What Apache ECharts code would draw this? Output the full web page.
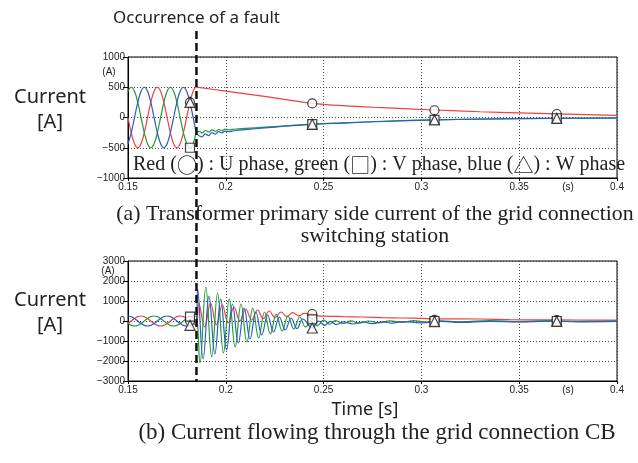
<!DOCTYPE html>
<html>
<head>
<meta charset="utf-8">
<title>Fault current</title>
<script src="https://cdn.jsdelivr.net/npm/echarts@6/dist/echarts.min.js"></script>
<style>html,body{margin:0;padding:0;background:#fff}</style>
</head>
<body>
<div id="chart" style="width:638px;height:463px;"></div>
<script>
// fault instant (s)
var faultTime = 0.185;
var timeTicks = [0.15, 0.2, 0.25, 0.3, 0.35, 0.4];
var ticksA = [-1000, -500, 0, 500, 1000];
var ticksB = [-3000, -2000, -1000, 0, 1000, 2000, 3000];

// samples before the fault (s)
var tPre = [0.15, 0.15167, 0.15333, 0.155, 0.15667, 0.15833, 0.16, 0.16167, 0.16333, 0.165, 0.16667,
  0.16833, 0.17, 0.17167, 0.17333, 0.175, 0.17667, 0.17833, 0.18, 0.18167, 0.18333, 0.185];

// (a) transformer primary side current, before fault (A)
var uPreA = [0, -250, -433, -500, -433, -250, 0, 250, 433, 500, 433, 250, 0, -250, -433, -500, -433, -250, 0, 250, 433, 500];
var vPreA = [433, 500, 433, 250, 0, -250, -433, -500, -433, -250, 0, 250, 433, 500, 433, 250, 0, -250, -433, -500, -433, -250];
var wPreA = [-433, -250, 0, 250, 433, 500, 433, 250, 0, -250, -433, -500, -433, -250, 0, 250, 433, 500, 433, 250, 0, -250];

// (a) after fault [t, A]
var uPostA = [[0.186, 498], [0.2, 435], [0.215, 370], [0.23, 300], [0.2442, 235], [0.26, 195], [0.28, 162],
  [0.3067, 124], [0.33, 95], [0.35, 75], [0.3692, 60], [0.4, 35]];
var vPostA = [[0.1865, -230], [0.188, -255], [0.1897, -215], [0.1914, -240], [0.193, -205], [0.1947, -228],
  [0.1964, -198], [0.198, -218], [0.1997, -192], [0.202, -205], [0.205, -190], [0.21, -180], [0.22, -160],
  [0.23, -140], [0.2442, -110], [0.26, -88], [0.28, -62], [0.3067, -38], [0.33, -25], [0.3692, -12], [0.4, -8]];
var wPostA = [[0.1862, -300], [0.1878, -320], [0.1895, -270], [0.1912, -300], [0.1929, -250], [0.1946, -275],
  [0.1963, -235], [0.198, -255], [0.1997, -225], [0.202, -232], [0.205, -215], [0.21, -200], [0.22, -172],
  [0.23, -145], [0.2442, -112], [0.26, -92], [0.28, -66], [0.3067, -40], [0.33, -28], [0.3692, -14], [0.4, -10]];

// (b) grid connection CB current, before fault (A)
var uPreB = [-125, 0, 125, 217, 250, 217, 125, 0, -125, -217, -250, -217, -125, 0, 125, 217, 250, 217, 125, 0, -125, -217];
var vPreB = [-125, -217, -250, -217, -125, 0, 125, 217, 250, 217, 125, 0, -125, -217, -250, -217, -125, 0, 125, 217, 250, 217];
var wPreB = [250, 217, 125, 0, -125, -217, -250, -217, -125, 0, 125, 217, 250, 217, 125, 0, -125, -217, -250, -217, -125, 0];

// (b) after fault [t, A]
var uPostB = [[0.1862, 900], [0.1892, -300], [0.1922, 900], [0.1952, -200], [0.1982, 800], [0.2012, -100],
  [0.2042, 700], [0.2072, 0], [0.2102, 600], [0.2132, 50], [0.2162, 550], [0.2192, 120], [0.2222, 500],
  [0.2252, 170], [0.2282, 450], [0.2312, 220], [0.2342, 420], [0.2372, 260], [0.2402, 380], [0.2442, 350],
  [0.2472, 260], [0.25, 240], [0.26, 220], [0.27, 200], [0.28, 170], [0.29, 150], [0.3, 130], [0.3067, 110],
  [0.32, 110], [0.33, 100], [0.345, 70], [0.36, 55], [0.38, 50], [0.4, 45]];
var vPostB = [[0.1868, -2100], [0.1898, 1700], [0.1928, -1800], [0.1958, 1400], [0.1988, -1600], [0.2018, 1100],
  [0.2048, -1300], [0.2078, 850], [0.2108, -1050], [0.2138, 650], [0.2168, -850], [0.2198, 450], [0.2228, -650],
  [0.2258, 350], [0.2288, -500], [0.2318, 250], [0.2348, -400], [0.2378, 200], [0.2408, -300], [0.2442, 80],
  [0.2468, -250], [0.25, 40], [0.253, -160], [0.256, 20], [0.26, -130], [0.264, 10], [0.268, -110], [0.273, 0],
  [0.278, -90], [0.284, 10], [0.29, -70], [0.296, 20], [0.303, -50], [0.31, 10], [0.32, -40], [0.335, 20],
  [0.35, -30], [0.365, 20], [0.38, -20], [0.4, 10]];
var wPostB = [[0.1856, 1600], [0.1884, -1900], [0.1914, 1250], [0.1944, -1650], [0.1974, 1100], [0.2004, -1450],
  [0.2034, 850], [0.2064, -1100], [0.2094, 650], [0.2124, -900], [0.2154, 450], [0.2184, -700], [0.2214, 300],
  [0.2244, -550], [0.2274, 200], [0.2304, -450], [0.2334, 150], [0.2364, -380], [0.2394, 100], [0.2442, -350],
  [0.2475, 0], [0.2505, -220], [0.2535, -20], [0.2565, -180], [0.26, -40], [0.265, -150], [0.27, -50],
  [0.275, -130], [0.28, -40], [0.285, -110], [0.29, -30], [0.3, -90], [0.31, -20], [0.32, -70], [0.335, -20],
  [0.35, -50], [0.365, -10], [0.38, -40], [0.4, -20]];

// marker positions on the curves
var markT = [0.1817, 0.2442, 0.3067, 0.3692];
var uMarkA = [250, 232, 120, 58];
var vMarkA = [-500, -108, -38, -12];
var wMarkA = [250, -112, -40, -14];
var uMarkB = [0, 350, 60, 40];
var vMarkB = [217, 80, 0, 0];
var wMarkB = [-217, -350, -30, -20];

var colU = '#ef4141', colV = '#1f9e35', colW = '#2c5cc2';

function pairs(t, v) {
  return t.map(function (x, i) { return [x, v[i]]; });
}

function lineSeries(idx, pre, post, color) {
  return {
    type: 'line', xAxisIndex: idx, yAxisIndex: idx,
    data: pairs(tPre, pre).concat(post),
    showSymbol: false, smooth: 0.4, silent: true,
    lineStyle: { color: color, width: 1.2 }
  };
}

function markSeries(idx, vals, symbol) {
  return {
    type: 'scatter', xAxisIndex: idx, yAxisIndex: idx,
    data: pairs(markT, vals), symbol: symbol, symbolSize: symbol === 'triangle' ? 10 : 9,
    itemStyle: { color: '#fff', borderColor: '#111', borderWidth: 1.2 }, z: 5, silent: true
  };
}

var labelFont = { fontFamily: 'Liberation Sans Narrow, Liberation Sans, sans-serif', fontSize: 10, color: '#222' };
var dots = { show: true, lineStyle: { color: '#444', type: [1, 2], width: 1 } };

function xAxis(idx) {
  return {
    type: 'value', gridIndex: idx,
    min: timeTicks[0], max: timeTicks[timeTicks.length - 1], interval: timeTicks[1] - timeTicks[0],
    axisLine: { onZero: false, lineStyle: { color: '#000' } },
    axisTick: { length: 3, lineStyle: { color: '#000' } },
    axisLabel: Object.assign({ margin: 4, formatter: function (v) { return String(+v.toFixed(2)); } }, labelFont),
    splitLine: dots
  };
}

function yAxis(idx, ticks) {
  return {
    type: 'value', gridIndex: idx,
    min: ticks[0], max: ticks[ticks.length - 1], interval: ticks[1] - ticks[0],
    axisLine: { show: true, lineStyle: { color: '#000' } },
    axisTick: { show: true, length: 5, lineStyle: { color: '#000' } },
    axisLabel: Object.assign({ margin: 3, formatter: function (v) { return String(v).replace('-', '\u2212'); } }, labelFont),
    splitLine: dots
  };
}

var chart = echarts.init(document.getElementById('chart'));
chart.setOption({
  animation: false,
  backgroundColor: '#fff',
  grid: [
    { left: 128, right: 21, top: 57, height: 121, show: true, borderColor: '#000', borderWidth: 1 },
    { left: 128, right: 21, top: 261, height: 120, show: true, borderColor: '#000', borderWidth: 1 }
  ],
  xAxis: [xAxis(0), xAxis(1)],
  yAxis: [yAxis(0, ticksA), yAxis(1, ticksB)],
  series: [
    lineSeries(0, uPreA, uPostA, colU),
    lineSeries(0, vPreA, vPostA, colV),
    lineSeries(0, wPreA, wPostA, colW),
    lineSeries(1, uPreB, uPostB, colU),
    lineSeries(1, vPreB, vPostB, colV),
    lineSeries(1, wPreB, wPostB, colW),
    markSeries(0, uMarkA, 'circle'),
    markSeries(0, vMarkA, 'rect'),
    markSeries(0, wMarkA, 'triangle'),
    markSeries(1, uMarkB, 'circle'),
    markSeries(1, vMarkB, 'rect'),
    markSeries(1, wMarkB, 'triangle')
  ]
});

var fx = chart.convertToPixel({ xAxisIndex: 0 }, faultTime);
var sx = chart.convertToPixel({ xAxisIndex: 0 }, 0.375);
var topA = chart.convertToPixel({ yAxisIndex: 0 }, ticksA[ticksA.length - 1]);
var topB = chart.convertToPixel({ yAxisIndex: 1 }, ticksB[ticksB.length - 1]);
var botA = chart.convertToPixel({ yAxisIndex: 0 }, ticksA[0]);
var botB = chart.convertToPixel({ yAxisIndex: 1 }, ticksB[0]);

var sans = 'Noto Sans, sans-serif';
var serif = 'Liberation Serif, Times New Roman, serif';
function txt(x, y, s, font, size, align, lh) {
  return { type: 'text', x: x, y: y, z: 20, silent: true,
    style: { text: s, fontFamily: font, fontSize: size, fill: '#222', align: align || 'center',
      verticalAlign: 'middle', lineHeight: lh || size + 2 } };
}

// phase key, with full-width symbols
var key = txt(133, 165, 'Red ({s|\u25CB}) : U phase, green ({s|\u25A1}) : V phase, blue ({s|\u25B3}) : W phase', serif, 20, 'left');
key.style.rich = { s: { fontFamily: 'Noto Sans CJK JP', fontSize: 20, fill: '#222' } };

chart.setOption({
  graphic: [
    { type: 'line', z: 15, silent: true, shape: { x1: fx, y1: 31, x2: fx, y2: botB },
      style: { stroke: '#111', lineWidth: 2.5, lineDash: [8, 4] } },
    txt(fx, 18, 'Occurrence of a fault', sans, 17),
    txt(50, 110, 'Current\n[A]', sans, 20, 'center', 25),
    txt(50, 313, 'Current\n[A]', sans, 20, 'center', 25),
    txt(109, topA + 15, '(A)', labelFont.fontFamily, 10),
    txt(108, topB + 10, '(A)', labelFont.fontFamily, 10),
    txt(sx, botA + 9, '(s)', labelFont.fontFamily, 10),
    txt(sx, botB + 9, '(s)', labelFont.fontFamily, 10),
    key,
    txt(375, 225, '(a) Transformer primary side current of the grid connection\nswitching station', serif, 21.8, 'center', 22),
    txt(365, 410, 'Time [s]', sans, 18),
    txt(377, 433, '(b) Current flowing through the grid connection CB', serif, 23)
  ]
});
</script>
</body>
</html>
